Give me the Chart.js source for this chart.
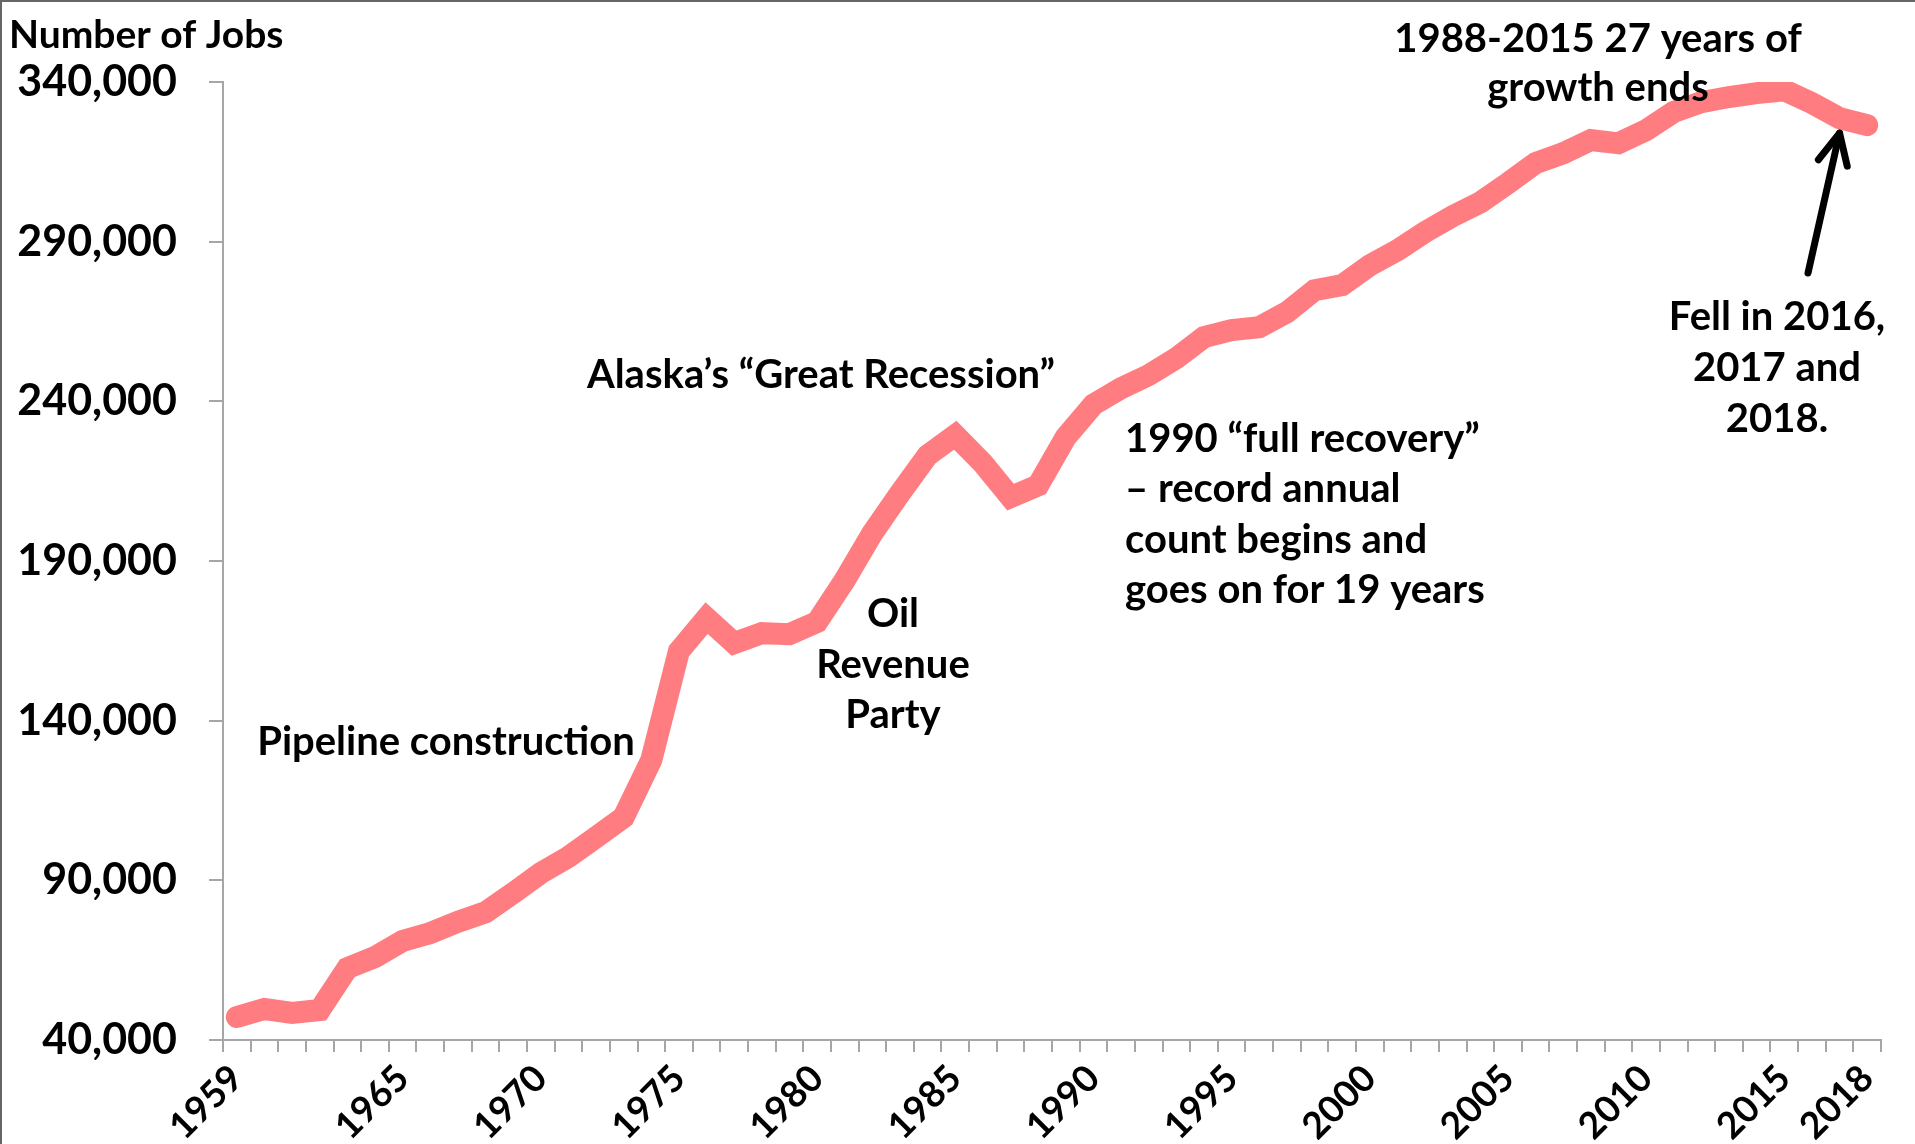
<!DOCTYPE html>
<html>
<head>
<meta charset="utf-8">
<script src="https://cdn.jsdelivr.net/npm/chart.js@4"></script>
<style>
  html, body { margin: 0; padding: 0; background: #fff; }
  canvas { display: block; }
</style>
</head>
<body>
<canvas id="jobsChart" width="1915" height="1144"></canvas>
<script>
// categories
const years = [
  '1959','1960','1961','1962','1963','1964','1965','1966','1967','1968',
  '1969','1970','1971','1972','1973','1974','1975','1976','1977','1978',
  '1979','1980','1981','1982','1983','1984','1985','1986','1987','1988',
  '1989','1990','1991','1992','1993','1994','1995','1996','1997','1998',
  '1999','2000','2001','2002','2003','2004','2005','2006','2007','2008',
  '2009','2010','2011','2012','2013','2014','2015','2016','2017','2018'
];

// Alaska wage and salary jobs
const jobs = [
  47200, 49700, 48500, 49400, 62500, 66000, 71000, 73500, 77000, 80000,
  86000, 92300, 97300, 103500, 109800, 127700, 161800, 172100, 164300, 167400,
  167100, 170900, 184000, 198700, 211200, 223100, 229400, 220600, 210000, 213700,
  228800, 239000, 244100, 248200, 253500, 260100, 262300, 263200, 267900, 274800,
  276400, 282600, 287300, 293000, 298000, 302300, 308300, 314600, 317700, 321800,
  320800, 324900, 330600, 333700, 335300, 336500, 337400, 333400, 328700, 326500
];

// x labels that are printed
const shownYears = ['1959','1965','1970','1975','1980','1985','1990','1995','2000','2005','2010','2015','2018'];

// y ticks
const yMin = 40000;
const yMax = 340000;
const yStep = 50000;

const FONT = 'Lato, "Open Sans", sans-serif';

const notes = {
  id: 'notes',
  beforeDraw(chart) {
    const ctx = chart.ctx;
    ctx.save();
    ctx.fillStyle = '#ffffff';
    ctx.fillRect(0, 0, chart.width, chart.height);
    // frame (top + left)
    ctx.strokeStyle = '#666666';
    ctx.lineWidth = 2;
    ctx.beginPath();
    ctx.moveTo(1, chart.height);
    ctx.lineTo(1, 1);
    ctx.lineTo(chart.width, 1);
    ctx.stroke();
    ctx.restore();
  },
  afterDraw(chart) {
    const ctx = chart.ctx;
    ctx.save();
    ctx.fillStyle = '#000';
    ctx.textBaseline = 'alphabetic';

    ctx.font = 'bold 39px ' + FONT;
    ctx.textAlign = 'left';
    ctx.fillText('Number of Jobs', 9, 48);

    ctx.font = 'bold 40px ' + FONT;
    ctx.textAlign = 'center';
    ctx.fillText('1988-2015 27 years of', 1598, 52);
    ctx.fillText('growth ends', 1598, 101);

    ctx.fillText('Alaska\u2019s \u201CGreat Recession\u201D', 821, 388);
    ctx.fillText('Pipeline construction', 446, 755);

    ctx.fillText('Oil', 893, 627);
    ctx.fillText('Revenue', 893, 678);
    ctx.fillText('Party', 893, 728);

    ctx.fillText('Fell in 2016,', 1777, 330);
    ctx.fillText('2017 and', 1777, 381);
    ctx.fillText('2018.', 1777, 432);

    ctx.textAlign = 'left';
    ctx.fillText('1990 \u201Cfull recovery\u201D', 1125, 452);
    ctx.fillText('\u2013 record annual', 1125, 502);
    ctx.fillText('count begins and', 1125, 553);
    ctx.fillText('goes on for 19 years', 1125, 603);

    // arrow to 2017
    const x = chart.scales.x.getPixelForValue(years.indexOf('2017'));
    const y = chart.scales.y.getPixelForValue(jobs[years.indexOf('2017')]) + 15;
    const tx = 1808, ty = 273;
    const ang = Math.atan2(ty - y, tx - x);
    ctx.strokeStyle = '#000';
    ctx.lineWidth = 7;
    ctx.lineCap = 'round';
    ctx.lineJoin = 'round';
    ctx.beginPath();
    ctx.moveTo(tx, ty);
    ctx.lineTo(x, y);
    ctx.stroke();
    ctx.beginPath();
    ctx.moveTo(x + 34 * Math.cos(ang - 0.45), y + 34 * Math.sin(ang - 0.45));
    ctx.lineTo(x, y);
    ctx.lineTo(x + 34 * Math.cos(ang + 0.45), y + 34 * Math.sin(ang + 0.45));
    ctx.stroke();
    ctx.restore();
  }
};

const ctx = document.getElementById('jobsChart').getContext('2d');
const jobsChart = new Chart(ctx, {
  type: 'line',
  data: {
    labels: years,
    datasets: [{
      label: 'Jobs',
      data: jobs,
      borderColor: '#ff7c80',
      borderWidth: 22,
      borderCapStyle: 'round',
      borderJoinStyle: 'miter',
      pointRadius: 0,
      tension: 0,
      fill: false,
      clip: {left: 20, right: 20, top: 0, bottom: 20}
    }]
  },
  options: {
    responsive: false,
    animation: false,
    layout: {
      padding: {left: 0, right: 34, top: 82, bottom: 0}
    },
    plugins: {
      legend: { display: false },
      tooltip: { enabled: false }
    },
    scales: {
      x: {
        offset: true,
        grid: {
          offset: true,
          drawOnChartArea: false,
          drawTicks: true,
          tickLength: 12,
          color: '#a6a6a6',
          lineWidth: 2
        },
        border: { color: '#a6a6a6', width: 2 },
        ticks: {
          autoSkip: false,
          maxRotation: 45,
          minRotation: 45,
          padding: 7,
          color: '#000',
          font: { family: FONT, size: 37, weight: 'bold', lineHeight: 1.0 },
          callback: function(val) {
            const y = this.getLabelForValue(val);
            return shownYears.includes(y) ? y : '';
          }
        },
        afterFit(scale) { scale.height = 104; }
      },
      y: {
        min: yMin,
        max: yMax,
        grid: {
          drawOnChartArea: false,
          drawTicks: true,
          tickLength: 14,
          color: '#a6a6a6',
          lineWidth: 2
        },
        border: { color: '#a6a6a6', width: 2 },
        ticks: {
          stepSize: yStep,
          padding: 32,
          color: '#000',
          font: { family: FONT, size: 43, weight: 'bold' },
          callback: v => v.toLocaleString('en-US')
        },
        afterFit(scale) { scale.width = 223; }
      }
    }
  },
  plugins: [notes]
});
</script>
</body>
</html>
